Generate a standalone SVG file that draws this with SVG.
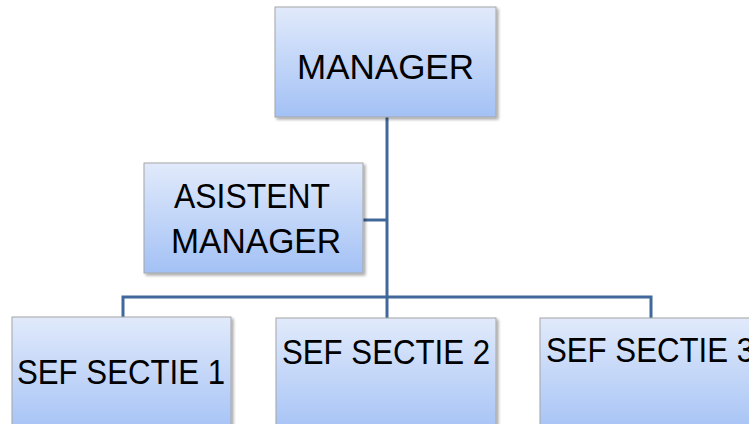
<svg xmlns="http://www.w3.org/2000/svg" width="749" height="424" viewBox="0 0 749 424">
<defs>
<linearGradient id="g" x1="0" y1="0" x2="0" y2="1">
<stop offset="0" stop-color="#E1EAFB"/>
<stop offset="1" stop-color="#A3C1F5"/>
</linearGradient>
<filter id="sh" x="-10%" y="-10%" width="125%" height="125%">
<feGaussianBlur in="SourceAlpha" stdDeviation="1.5"/>
<feOffset dx="2" dy="2" result="b"/>
<feComponentTransfer><feFuncA type="linear" slope="0.35"/></feComponentTransfer>
<feMerge><feMergeNode/><feMergeNode in="SourceGraphic"/></feMerge>
</filter>
</defs>
<style>
.box{fill:url(#g);stroke:#A6A6A6;stroke-width:1;filter:url(#sh)}
.t{font-family:"Liberation Sans",Arial,sans-serif;font-size:35px;fill:#000;text-anchor:middle}
.c{fill:none;stroke:#41689A;stroke-width:3}
</style>
<rect width="749" height="424" fill="#fff"/>
<g id="connectors">
<path class="c" d="M387 117 V297"/>
<path class="c" d="M363 220 H387"/>
<path class="c" d="M123 317 V297 H651 V318"/>
<path class="c" d="M387 297 V318"/>
</g>
<g id="manager">
<rect class="box" x="275" y="7" width="221" height="110"/>
<text class="t" x="385.5" y="79" textLength="177" lengthAdjust="spacingAndGlyphs">MANAGER</text>
</g>
<g id="asistent">
<rect class="box" x="144" y="163" width="219" height="110"/>
<text class="t" x="252" y="208" textLength="156" lengthAdjust="spacingAndGlyphs">ASISTENT</text>
<text class="t" x="256" y="253" textLength="170" lengthAdjust="spacingAndGlyphs">MANAGER</text>
</g>
<g id="sef1">
<rect class="box" x="12" y="317" width="219" height="120"/>
<text class="t" x="121" y="384" textLength="208" lengthAdjust="spacingAndGlyphs">SEF SECTIE 1</text>
</g>
<g id="sef2">
<rect class="box" x="276" y="318" width="220" height="120"/>
<text class="t" x="386" y="364" textLength="208" lengthAdjust="spacingAndGlyphs">SEF SECTIE 2</text>
</g>
<g id="sef3">
<rect class="box" x="540" y="318" width="220" height="120"/>
<text class="t" x="650" y="362" textLength="208" lengthAdjust="spacingAndGlyphs">SEF SECTIE 3</text>
</g>
</svg>
